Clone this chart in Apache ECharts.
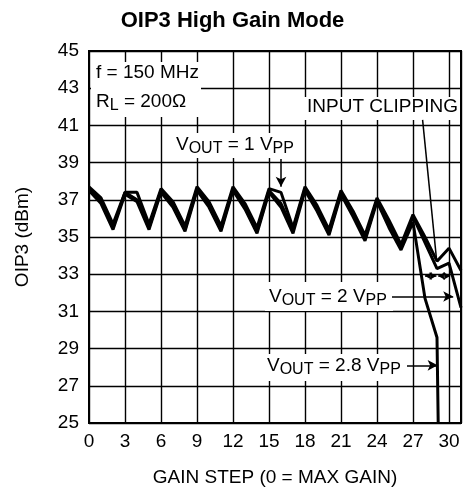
<!DOCTYPE html>
<html>
<head>
<meta charset="utf-8">
<script src="https://cdn.jsdelivr.net/npm/echarts@6/dist/echarts.min.js"></script>
<style>
  html, body { margin: 0; padding: 0; background: #fff; }
  #chart { width: 465px; height: 492px; }
</style>
</head>
<body>
<div id="chart"></div>
<script>
  // gain steps (x) and OIP3 in dBm (y)
  const gainSteps = [0, 1, 2, 3, 4, 5, 6, 7, 8, 9, 10, 11, 12, 13, 14, 15, 16, 17, 18, 19, 20, 21, 22, 23, 24, 25, 26, 27, 28, 29, 30, 31];
  const oip3Vout1 = [37.7, 37.1, 35.7, 37.4, 37.4, 35.7, 37.6, 36.9, 35.6, 37.7, 36.9, 35.6, 37.7, 36.8, 35.5, 37.6, 37.4, 35.5,
    37.7, 36.7, 35.4, 37.5, 36.4, 35.1, 37.1, 35.9, 34.6, 36.2, 35.0, 33.7, 34.4, 33.2];
  const oip3Vout2 = [37.6, 37.0, 35.5, 37.4, 37.0, 35.5, 37.5, 36.7, 35.4, 37.6, 36.7, 35.4, 37.6, 36.6, 35.3, 37.5, 36.8, 35.4,
    37.6, 36.5, 35.2, 37.4, 36.2, 34.9, 37.0, 35.7, 34.4, 36.1, 34.7, 33.3, 33.6, 31.2];
  // 2.8 Vpp falls off the bottom of the plot just after step 29
  const gainSteps28 = [0, 1, 2, 3, 4, 5, 6, 7, 8, 9, 10, 11, 12, 13, 14, 15, 16, 17, 18, 19, 20, 21, 22, 23, 24, 25, 26, 27, 28, 29, 29.1];
  const oip3Vout28 = [37.5, 36.8, 35.4, 37.3, 36.9, 35.4, 37.4, 36.6, 35.3, 37.5, 36.6, 35.3, 37.5, 36.5, 35.2, 37.4, 36.6, 35.2,
    37.5, 36.4, 35.1, 37.3, 36.1, 34.8, 36.9, 35.5, 34.3, 35.8, 31.7, 29.6, 25];

  const font = '"Liberation Sans", Arial, sans-serif';

  const pairs = (xs, ys) => xs.map((x, i) => [x, ys[i]]);

  // rich text styles for V_OUT / V_PP subscripts
  const rich = {
    n: { fontSize: 19, fontFamily: font, color: '#000', lineHeight: 24 },
    s: { fontSize: 16, fontFamily: font, color: '#000', lineHeight: 14, verticalAlign: 'bottom' }
  };

  function label(text, x, y) {
    return {
      type: 'text', x: x, y: y, z: 10, silent: true,
      style: { text: text, rich: rich, verticalAlign: 'middle', align: 'left' }
    };
  }

  function box(x, y, w, h) {
    return {
      type: 'rect', z: 1, silent: true,
      shape: { x: x, y: y, width: w, height: h },
      style: { fill: '#fff' }
    };
  }

  const arrowLine = (from, to, startSym, endSym, size) => [
    { coord: from, symbol: startSym, symbolSize: size },
    { coord: to, symbol: endSym, symbolSize: size }
  ];

  const chart = echarts.init(document.getElementById('chart'));

  chart.setOption({
    animation: false,
    backgroundColor: '#fff',
    title: {
      text: 'OIP3 High Gain Mode',
      left: 'center',
      top: 5,
      textStyle: { fontFamily: font, fontSize: 22, fontWeight: 'bold', color: '#000' }
    },
    grid: {
      left: 89, right: 4, top: 51, bottom: 68,
      show: true, borderColor: '#000', borderWidth: 2
    },
    xAxis: {
      type: 'value',
      min: 0, max: 31, interval: 3,
      name: 'GAIN STEP (0 = MAX GAIN)',
      nameLocation: 'middle',
      nameGap: 45,
      nameTextStyle: { fontFamily: font, fontSize: 19, color: '#000' },
      axisLine: { show: true, lineStyle: { color: '#000', width: 2 } },
      axisTick: { show: false },
      axisLabel: { fontFamily: font, fontSize: 19, color: '#000', margin: 9, showMaxLabel: false },
      splitLine: { show: true, lineStyle: { color: '#000', width: 1.4 } }
    },
    yAxis: {
      type: 'value',
      min: 25, max: 45, interval: 2,
      name: 'OIP3 (dBm)',
      nameLocation: 'middle',
      nameGap: 57,
      nameTextStyle: { fontFamily: font, fontSize: 19, color: '#000' },
      axisLine: { show: true, lineStyle: { color: '#000', width: 2 } },
      axisTick: { show: false },
      axisLabel: { fontFamily: font, fontSize: 19, color: '#000', margin: 10 },
      splitLine: { show: true, lineStyle: { color: '#000', width: 1.4 } }
    },
    series: [
      {
        name: 'VOUT = 1 VPP',
        type: 'line',
        data: pairs(gainSteps, oip3Vout1),
        symbol: 'none',
        lineStyle: { color: '#000', width: 3 },
        z: 3,
        markLine: {
          silent: true,
          label: { show: false },
          lineStyle: { color: '#000', width: 1.5, type: 'solid' },
          data: [
            arrowLine([16, 39.2], [16, 37.7], 'none', 'arrow', [8, 10]),
            arrowLine([27.8, 41.3], [28.96, 33.8], 'none', 'none', 0),
            arrowLine([25.25, 31.8], [30.35, 31.8], 'none', 'arrow', [8, 10]),
            arrowLine([26.5, 28.1], [29.05, 28.1], 'none', 'arrow', [8, 10]),
            arrowLine([28, 32.9], [28.95, 32.9], 'arrow', 'arrow', [6, 7]),
            arrowLine([29.1, 32.9], [30.1, 32.9], 'arrow', 'arrow', [6, 7])
          ]
        }
      },
      {
        name: 'VOUT = 2 VPP',
        type: 'line',
        data: pairs(gainSteps, oip3Vout2),
        symbol: 'none',
        lineStyle: { color: '#000', width: 3 },
        z: 3
      },
      {
        name: 'VOUT = 2.8 VPP',
        type: 'line',
        data: pairs(gainSteps28, oip3Vout28),
        symbol: 'none',
        lineStyle: { color: '#000', width: 3 },
        z: 3
      }
    ],
    graphic: [
      box(91, 62, 110, 55),
      box(172, 133, 118, 25),
      box(304, 97, 155, 23),
      box(265, 282, 128, 29),
      box(264, 354, 144, 27),
      label('{n|f = 150 MHz}', 96, 73),
      label('{n|R}{s|L}{n| = 200Ω}', 96, 102),
      label('{n|V}{s|OUT}{n| = 1 V}{s|PP}', 176, 145),
      label('{n|INPUT CLIPPING}', 307, 107),
      label('{n|V}{s|OUT}{n| = 2 V}{s|PP}', 269, 297),
      label('{n|V}{s|OUT}{n| = 2.8 V}{s|PP}', 267, 366)
    ]
  });
</script>
</body>
</html>
